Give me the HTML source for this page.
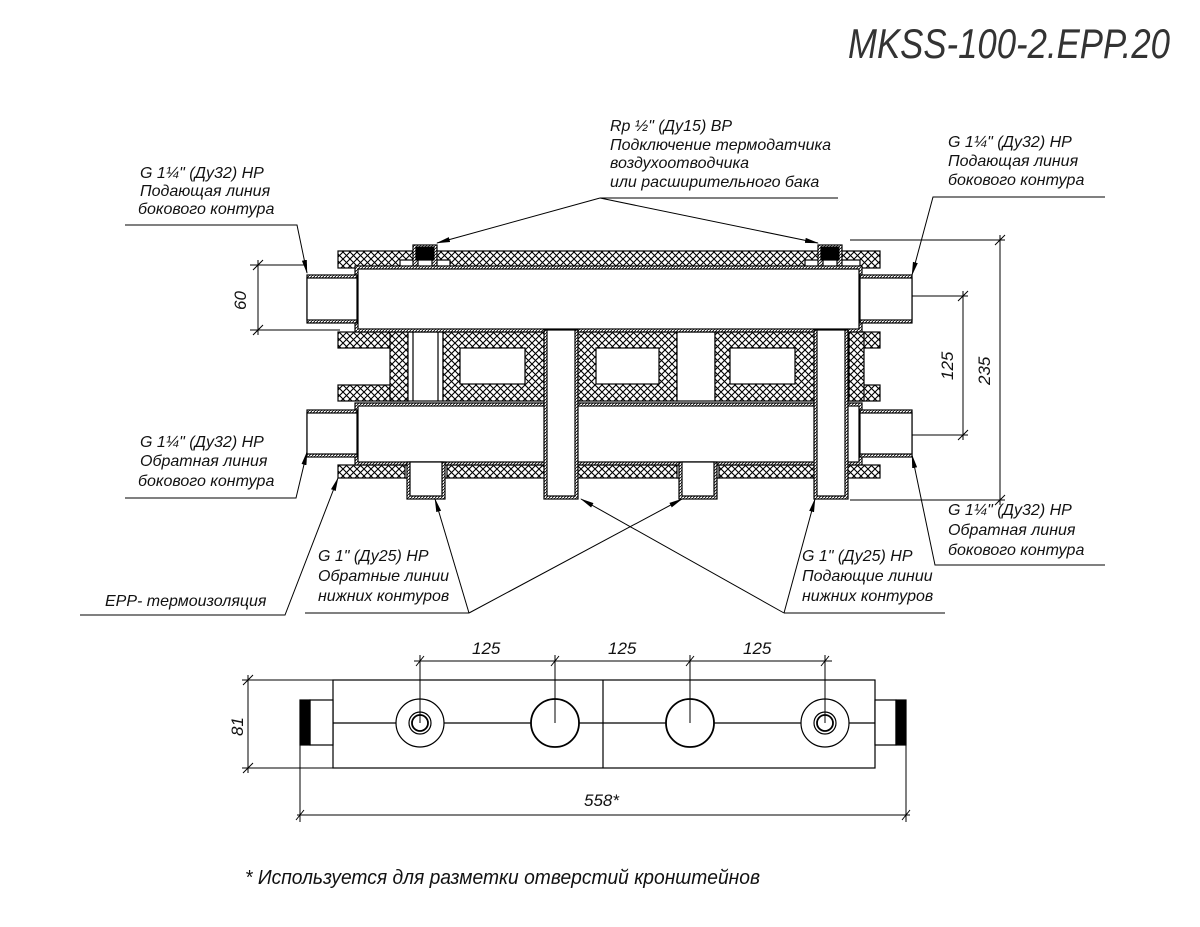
<!DOCTYPE html>
<html><head><meta charset="utf-8"><style>
body{margin:0;background:#fff}
svg{display:block}
text{font-family:"Liberation Sans Narrow","Liberation Sans",sans-serif;font-style:italic;fill:#111}
</style></head><body>
<svg width="1200" height="927" viewBox="0 0 1200 927" xmlns="http://www.w3.org/2000/svg">
<defs>
<pattern id="x" width="7" height="7" patternUnits="userSpaceOnUse">
<rect width="7" height="7" fill="#fff"/>
<path d="M0 0L7 7M7 0L0 7" stroke="#000" stroke-width="1.1"/>
</pattern>
<pattern id="w" width="3" height="3" patternUnits="userSpaceOnUse">
<rect width="3" height="3" fill="#fff"/><path d="M0 3L3 0" stroke="#000" stroke-width="0.8"/>
</pattern>
<marker id="a" markerWidth="14" markerHeight="6" refX="13" refY="3" orient="auto" markerUnits="userSpaceOnUse">
<path d="M0 0.5L14 3L0 5.5z" fill="#000"/></marker>
</defs>
<g stroke="#000" fill="none" stroke-width="1.2">

<text x="848" y="58" font-size="42" stroke="none" style="fill:#333" textLength="322" lengthAdjust="spacingAndGlyphs">MKSS-100-2.EPP.20</text>

<rect x="338" y="251" width="542" height="17" fill="url(#x)"/>
<rect x="400" y="260" width="50" height="8" fill="#fff"/>
<rect x="805" y="260" width="55" height="8" fill="#fff"/>
<rect x="413" y="245" width="24" height="23" fill="url(#w)"/>
<rect x="416" y="247" width="18" height="13" fill="#000"/>
<rect x="418" y="260" width="14" height="8" fill="#fff"/>
<rect x="818" y="245" width="24" height="23" fill="url(#w)"/>
<rect x="821" y="247" width="18" height="13" fill="#000"/>
<rect x="823" y="260" width="14" height="8" fill="#fff"/>

<rect x="338" y="332" width="70" height="16" fill="url(#x)"/>
<rect x="338" y="385" width="70" height="16" fill="url(#x)"/>
<rect x="390" y="332" width="18" height="69" fill="url(#x)"/>
<rect x="408" y="332" width="35" height="69" fill="#fff"/>
<line x1="413" y1="332" x2="413" y2="401"/><line x1="438" y1="332" x2="438" y2="401"/>
<rect x="443" y="332" width="102" height="69" fill="url(#x)"/>
<rect x="460" y="348" width="65" height="36" fill="#fff"/>
<rect x="577" y="332" width="100" height="69" fill="url(#x)"/>
<rect x="596" y="348" width="63" height="36" fill="#fff"/>
<rect x="677" y="332" width="38" height="69" fill="#fff"/>
<rect x="715" y="332" width="100" height="69" fill="url(#x)"/>
<rect x="730" y="348" width="65" height="36" fill="#fff"/>
<rect x="849" y="332" width="31" height="16" fill="url(#x)"/>
<rect x="849" y="385" width="31" height="16" fill="url(#x)"/>
<rect x="849" y="332" width="15" height="69" fill="url(#x)"/>

<rect x="338" y="465" width="542" height="13" fill="url(#x)"/>
<rect x="405" y="465" width="42" height="13" fill="#fff"/>
<rect x="677" y="465" width="42" height="13" fill="#fff"/>

<rect x="355" y="266" width="507" height="66" fill="url(#w)"/>
<rect x="358" y="269" width="501" height="60" fill="#fff"/>
<rect x="307" y="275" width="50" height="48" fill="url(#w)"/>
<rect x="307" y="278" width="50" height="42" fill="#fff"/>
<rect x="860" y="275" width="52" height="48" fill="url(#w)"/>
<rect x="860" y="278" width="52" height="42" fill="#fff"/>
<rect x="355" y="403" width="507" height="62" fill="url(#w)"/>
<rect x="358" y="406" width="501" height="56" fill="#fff"/>
<rect x="307" y="410" width="50" height="47" fill="url(#w)"/>
<rect x="307" y="413" width="50" height="41" fill="#fff"/>
<rect x="860" y="410" width="52" height="47" fill="url(#w)"/>
<rect x="860" y="413" width="52" height="41" fill="#fff"/>
<rect x="544" y="330" width="34" height="169" fill="url(#w)"/>
<rect x="547" y="330" width="28" height="166" fill="#fff"/>
<rect x="814" y="330" width="34" height="169" fill="url(#w)"/>
<rect x="817" y="330" width="28" height="166" fill="#fff"/>
<rect x="407" y="462" width="38" height="37" fill="url(#w)"/>
<rect x="410" y="462" width="32" height="34" fill="#fff"/>
<rect x="679" y="462" width="38" height="37" fill="url(#w)"/>
<rect x="682" y="462" width="32" height="34" fill="#fff"/>

<g stroke-width="1">
<line x1="250" y1="265" x2="307" y2="265"/><line x1="250" y1="330" x2="340" y2="330"/>
<line x1="258" y1="260" x2="258" y2="335"/>
<line x1="253" y1="270" x2="263" y2="260"/><line x1="253" y1="335" x2="263" y2="325"/>
<line x1="912" y1="296" x2="968" y2="296"/><line x1="912" y1="435" x2="968" y2="435"/>
<line x1="963" y1="291" x2="963" y2="440"/>
<line x1="958" y1="301" x2="968" y2="291"/><line x1="958" y1="440" x2="968" y2="430"/>
<line x1="850" y1="240" x2="1005" y2="240"/><line x1="850" y1="500" x2="1005" y2="500"/>
<line x1="1000" y1="235" x2="1000" y2="505"/>
<line x1="995" y1="245" x2="1005" y2="235"/><line x1="995" y1="505" x2="1005" y2="495"/>
</g>
<g stroke="none" font-size="17">
<text transform="translate(246,310) rotate(-90)">60</text>
<text transform="translate(953,380) rotate(-90)">125</text>
<text transform="translate(990,385) rotate(-90)">235</text>
</g>

<g stroke="none" font-size="16">
<text x="140" y="178">G 1¼" (Ду32) НР</text>
<text x="140" y="196">Подающая линия</text>
<text x="138" y="214">бокового контура</text>
<text x="610" y="131">Rp ½" (Ду15) ВР</text>
<text x="610" y="150">Подключение термодатчика</text>
<text x="610" y="168">воздухоотводчика</text>
<text x="610" y="187">или расширительного бака</text>
<text x="948" y="147">G 1¼" (Ду32) НР</text>
<text x="948" y="166">Подающая линия</text>
<text x="948" y="185">бокового контура</text>
<text x="140" y="447">G 1¼" (Ду32) НР</text>
<text x="140" y="466">Обратная линия</text>
<text x="138" y="486">бокового контура</text>
<text x="948" y="515">G 1¼" (Ду32) НР</text>
<text x="948" y="535">Обратная линия</text>
<text x="948" y="555">бокового контура</text>
<text x="105" y="606">ЕРР- термоизоляция</text>
<text x="318" y="561">G 1" (Ду25) НР</text>
<text x="318" y="581">Обратные линии</text>
<text x="318" y="601">нижних контуров</text>
<text x="802" y="561">G 1" (Ду25) НР</text>
<text x="802" y="581">Подающие линии</text>
<text x="802" y="601">нижних контуров</text>
</g>
<g stroke-width="1">
<polyline points="125,225 297,225 307,273" marker-end="url(#a)"/>
<line x1="600" y1="198" x2="838" y2="198"/>
<line x1="600" y1="198" x2="437" y2="243" marker-end="url(#a)"/>
<line x1="600" y1="198" x2="818" y2="243" marker-end="url(#a)"/>
<polyline points="1105,197 933,197 912,275" marker-end="url(#a)"/>
<polyline points="125,498 296,498 307,452" marker-end="url(#a)"/>
<polyline points="1105,565 935,565 912,455" marker-end="url(#a)"/>
<polyline points="80,615 285,615 338,478" marker-end="url(#a)"/>
<line x1="305" y1="613" x2="469" y2="613"/>
<line x1="469" y1="613" x2="435" y2="499" marker-end="url(#a)"/>
<line x1="469" y1="613" x2="682" y2="499" marker-end="url(#a)"/>
<line x1="784" y1="613" x2="945" y2="613"/>
<line x1="784" y1="613" x2="581" y2="499" marker-end="url(#a)"/>
<line x1="784" y1="613" x2="815" y2="499" marker-end="url(#a)"/>
</g>

<rect x="333" y="680" width="542" height="88"/>
<line x1="603" y1="680" x2="603" y2="768"/>
<line x1="333" y1="723" x2="875" y2="723"/>
<rect x="310" y="700" width="23" height="45" fill="#fff"/>
<rect x="300" y="700" width="10" height="45" fill="#000"/>
<rect x="875" y="700" width="21" height="45" fill="#fff"/>
<rect x="896" y="700" width="10" height="45" fill="#000"/>
<circle cx="420" cy="723" r="24" fill="#fff"/>
<circle cx="420" cy="723" r="11"/><circle cx="420" cy="723" r="8" stroke-width="1.8"/>
<circle cx="825" cy="723" r="24" fill="#fff"/>
<circle cx="825" cy="723" r="11"/><circle cx="825" cy="723" r="8" stroke-width="1.8"/>
<ellipse cx="555" cy="723" rx="24" ry="24" fill="#fff" stroke-width="1.8"/>
<ellipse cx="690" cy="723" rx="24" ry="24" fill="#fff" stroke-width="1.8"/>
<g stroke-width="1">
<line x1="414" y1="661" x2="832" y2="661"/>
<line x1="420" y1="655" x2="420" y2="723"/><line x1="555" y1="655" x2="555" y2="723"/>
<line x1="690" y1="655" x2="690" y2="723"/><line x1="825" y1="655" x2="825" y2="723"/>
<line x1="416" y1="666" x2="424" y2="656"/><line x1="551" y1="666" x2="559" y2="656"/>
<line x1="686" y1="666" x2="694" y2="656"/><line x1="821" y1="666" x2="829" y2="656"/>
<line x1="242" y1="680" x2="333" y2="680"/><line x1="242" y1="768" x2="333" y2="768"/>
<line x1="248" y1="675" x2="248" y2="773"/>
<line x1="243" y1="685" x2="253" y2="675"/><line x1="243" y1="773" x2="253" y2="763"/>
<line x1="300" y1="745" x2="300" y2="822"/><line x1="906" y1="745" x2="906" y2="822"/>
<line x1="297" y1="815" x2="910" y2="815"/>
<line x1="296" y1="820" x2="304" y2="810"/><line x1="902" y1="820" x2="910" y2="810"/>
</g>
<g stroke="none" font-size="17">
<text x="472" y="654">125</text><text x="608" y="654">125</text><text x="743" y="654">125</text>
<text transform="translate(243,736) rotate(-90)">81</text>
<text x="584" y="806">558*</text>
</g>
<text x="245" y="884" stroke="none" font-size="20" textLength="515" lengthAdjust="spacingAndGlyphs">* Используется для разметки отверстий кронштейнов</text>
</g>
</svg>
</body></html>
